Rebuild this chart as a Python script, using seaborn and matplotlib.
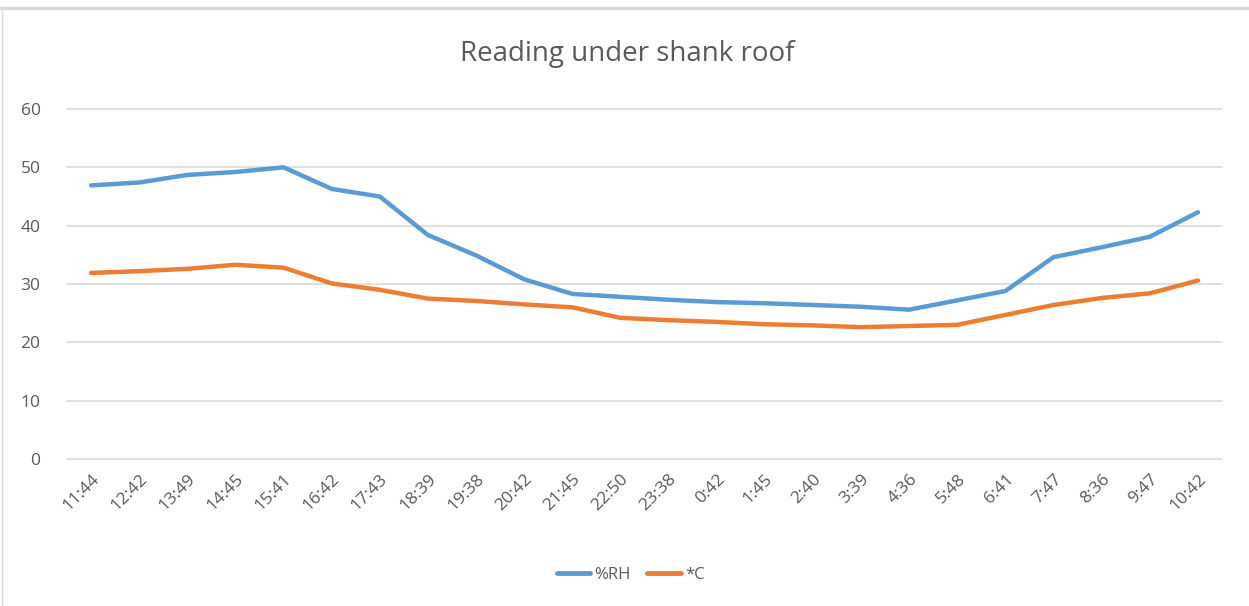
import pandas as pd
import numpy as np
import seaborn as sns
from matplotlib import pyplot as plt
from matplotlib.lines import Line2D

# Readings
times = ['11:44', '12:42', '13:49', '14:45', '15:41', '16:42', '17:43', '18:39',
         '19:38', '20:42', '21:45', '22:50', '23:38', '0:42', '1:45', '2:40',
         '3:39', '4:36', '5:48', '6:41', '7:47', '8:36', '9:47', '10:42']
rh = [46.9, 47.4, 48.7, 49.2, 50.0, 46.3, 45.0, 38.4, 34.9, 30.8, 28.3, 27.8,
      27.3, 26.9, 26.7, 26.4, 26.1, 25.6, 27.2, 28.8, 34.6, 36.3, 38.1, 42.3]
temp_c = [31.9, 32.2, 32.6, 33.3, 32.8, 30.1, 29.0, 27.5, 27.1, 26.5, 26.0, 24.2,
          23.8, 23.5, 23.1, 22.9, 22.6, 22.8, 23.0, 24.7, 26.4, 27.6, 28.4, 30.6]
series = ['%RH', '*C']
colors = ['#5b9bd5', '#ed7d31']

df = pd.DataFrame({'pos': np.arange(len(times)), 'time': times, '%RH': rh, '*C': temp_c})
df = pd.melt(df, id_vars=['pos', 'time'], value_vars=series, var_name='series', value_name='value')

sns.set_style('white')
plt.rcParams['font.family'] = ['Open Sans', 'DejaVu Sans']

fig = plt.figure(figsize=(12.49, 6.06), dpi=100)
ax = fig.add_axes([67 / 1249, 1 - 459 / 606, (1222 - 67) / 1249, 350 / 606])

sns.lineplot(x='pos', y='value', hue='series', data=df, ax=ax, hue_order=series,
             palette=colors, linewidth=3.2, legend=False, solid_capstyle='round')

ax.set_xlim(-0.5, len(times) - 0.5)
ax.set_ylim(0, 60)
ax.set_yticks(range(0, 61, 10))
ax.set_xticks(range(len(times)))
ax.set_xticklabels(times, rotation=45, ha='right', rotation_mode='anchor')
ax.tick_params(axis='both', length=0, labelsize=12.5, labelcolor='#595959')
ax.tick_params(axis='x', pad=9)
ax.tick_params(axis='y', pad=19)
ax.grid(axis='y', color='#d9d9d9', linewidth=1.2)
for gl in ax.get_ygridlines():
    gl.set_clip_on(False)
ax.set_axisbelow(True)
for s in ax.spines.values():
    s.set_visible(False)
ax.set_xlabel('')
ax.set_ylabel('')

fig.text(0.502, 1 - 54 / 606, 'Reading under shank roof', ha='center', va='center',
         fontsize=20, color='#595959')

handles = [Line2D([], [], color=c, linewidth=3.5, solid_capstyle='round') for c in colors]
fig.legend(handles, series, loc='center', bbox_to_anchor=(0.505, 1 - 575 / 606), ncol=2,
           frameon=False, fontsize=12, labelcolor='#595959', handlelength=2.0,
           handletextpad=0.25, columnspacing=1.0)

# thin chart frame like the source
fig.add_artist(Line2D([0, 1], [1 - 8 / 606, 1 - 8 / 606], color='#d9d9d9', linewidth=2.5))
fig.add_artist(Line2D([2 / 1249, 2 / 1249], [0, 1 - 8 / 606], color='#d9d9d9', linewidth=1))

fig.savefig('out.png', dpi=100)
